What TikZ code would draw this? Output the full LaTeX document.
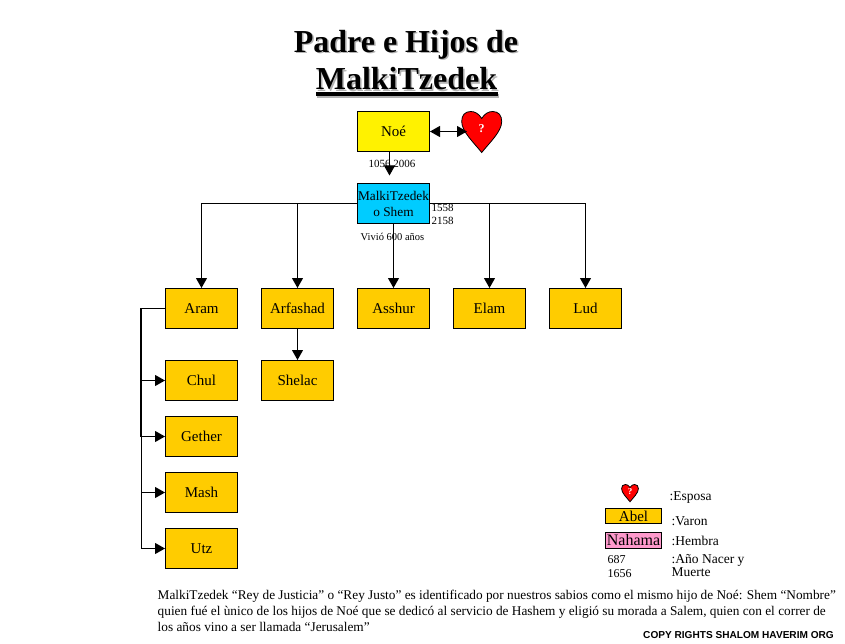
\documentclass[tikz,border=0pt]{standalone}
\usepackage{fontspec}
\setmainfont{Liberation Serif}
\newfontfamily\copyfont{Liberation Sans}
\usetikzlibrary{calc}
\usetikzlibrary{arrows.meta}

\definecolor{varonColor}{HTML}{FFCC00}
\definecolor{hembraColor}{HTML}{FF99CC}
\definecolor{shemColor}{HTML}{00CCFF}

\newcommand{\titleShadow}[1]{\rlap{\kern 1.5pt\raisebox{-1.5pt}{\textcolor{gray!60}{#1}}}#1}

\tikzset{
	personBox/.style = {draw, line width = 1pt, fill = varonColor, minimum width = 72pt, minimum height = 40pt, inner sep = 0pt, font = \fontsize{15}{16}\selectfont},
	legendBox/.style = {draw, line width = 1pt, minimum width = 56pt, minimum height = 15.5pt, inner sep = 0pt, font = \fontsize{15}{16}\selectfont},
	smallText/.style = {inner sep = 0pt, align = left, font = \fontsize{11}{13}\selectfont},
	legendText/.style = {inner sep = 0pt, anchor = west, align = left, font = \fontsize{13.5}{12.5}\selectfont},
	titleText/.style = {inner sep = 0pt, anchor = base, font = \fontsize{32}{38}\selectfont\bfseries},
	link/.style = {line width = 1pt, -{Triangle[length = 10pt, width = 11pt]}},
	heartMark/.style = {inner sep = 0pt, minimum width = 29pt, minimum height = 12pt, text = white, font = \fontsize{12}{12}\selectfont\bfseries},
	heartShape/.pic = {
		\draw [fill = red, line width = 0.8pt] (0,7) .. controls (3,2) and (7,0) .. (11,0) .. controls (17,0) and (20,4) .. (20,10) .. controls (20,20) and (8,31) .. (0,41) .. controls (-8,31) and (-20,20) .. (-20,10) .. controls (-20,4) and (-17,0) .. (-11,0) .. controls (-7,0) and (-3,2) .. (0,7) -- cycle;
	}
}

\begin{document}
\begin{tikzpicture}[x = 1pt, y = -1pt]
	\useasboundingbox (-0.5,-0.5) rectangle (844.5,643.5);

	% title
	\node [titleText] (title) at (405.5,52) {\titleShadow{Padre e Hijos de}};
	\node [titleText] (name) at (406,89.5) {\titleShadow{MalkiTzedek}};
	\fill [gray!60] (316.5,93.5) rectangle (498.5,97.5);
	\fill (315,92) rectangle (497,96);

	% parents
	\pic at (481.2,111) {heartShape};
	\node [personBox, fill = yellow] (noe) at (393,131) {Noé};
	\node [heartMark] (esposa) at (481.2,128) {?};
	\draw [line width = 1pt, {Triangle[length = 10pt, width = 11pt]}-{Triangle[length = 10pt, width = 11pt]}] (noe.east) -- (noe.east -| esposa.west);

	% bus below shem, drawn first so that the box covers it
	\coordinate (noeTip) at (389,175);
	\node [personBox, fill = shemColor, align = center, font = \fontsize{13.3}{16}\selectfont] (shem) at (393,203) {MalkiTzedek\\o Shem};

	% sons
	\node [personBox] (aram) at (201,308) {Aram};
	\node [personBox] (arfashad) at (297,308) {Arfashad};
	\node [personBox] (asshur) at (393,308) {Asshur};
	\node [personBox] (elam) at (489,308) {Elam};
	\node [personBox] (lud) at (585,308) {Lud};

	% grandsons
	\node [personBox] (chul) at (201,380) {Chul};
	\node [personBox] (shelac) at (297,380) {Shelac};
	\node [personBox] (gether) at (201,436) {Gether};
	\node [personBox] (mash) at (201,492) {Mash};
	\node [personBox] (utz) at (201,548) {Utz};

	% links
	\draw [link] (noe.south -| noeTip) -- (noeTip);
	\draw [link] (shem.west) -| (aram.north);
	\draw [link] (shem.west) -| (arfashad.north);
	\draw [link] (shem.south) -- (asshur.north);
	\draw [link] (shem.east) -| (elam.north);
	\draw [link] (shem.east) -| (lud.north);
	\draw [link] (arfashad.south) -- (shelac.north);
	\draw [link] (aram.west) -- ++(-24,0) |- (chul.west);
	\draw [link] (aram.west) -- ++(-24.8,0) |- (gether.west);
	\draw [link] (aram.west) -- ++(-24,0) |- (mash.west);
	\draw [link] (aram.west) -- ++(-24,0) |- (utz.west);

	% years
	\node [smallText] (noeYears) at (391.5,163.5) {1056\hspace{3pt}2006};
	\node [smallText, anchor = west] (shemYears) at (431,214) {1558\\2158};
	\node [smallText, font = \fontsize{10.5}{12}\selectfont] (shemAge) at (392,236.5) {Vivió 600 años};

	% legend
	\pic [scale = 0.42] at (629.5,484) {heartShape};
	\node [inner sep = 0pt, text = white, font = \fontsize{9}{9}\selectfont\bfseries] (legendMark) at (629.5,491) {?};
	\node [legendBox, fill = varonColor] (abel) at (633,515.7) {Abel};
	\node [legendBox, fill = hembraColor, font = \fontsize{16}{16}\selectfont] (nahama) at (633,540) {Nahama};
	\node [legendText] (legendEsposa) at (669,497) {:Esposa};
	\node [legendText] (legendVaron) at (671,521) {:Varon};
	\node [legendText] (legendHembra) at (671,540) {:Hembra};
	\node [legendText, font = \fontsize{12}{14}\selectfont] (legendYears) at (607,566) {687\\1656};
	\node [legendText] (legendNacer) at (671,565) {:Año Nacer y\\Muerte};

	% notes
	\node [inner sep = 0pt, anchor = north west, align = left, font = \fontsize{13.3}{16}\selectfont] (notes) at (157,589.5) {MalkiTzedek “Rey de Justicia” o “Rey Justo” es identificado por nuestros sabios como el mismo hijo de Noé: Shem “Nombre”\\quien fué el ùnico de los hijos de Noé que se dedicó al servicio de Hashem y eligió su morada a Salem, quien con el correr de\\los años vino a ser llamada “Jerusalem”};
	\node [inner sep = 0pt, anchor = east, font = \copyfont\fontsize{10.1}{10}\selectfont\bfseries] (copyRights) at (833.5,634.5) {COPY RIGHTS SHALOM HAVERIM ORG};

\end{tikzpicture}
\end{document}
